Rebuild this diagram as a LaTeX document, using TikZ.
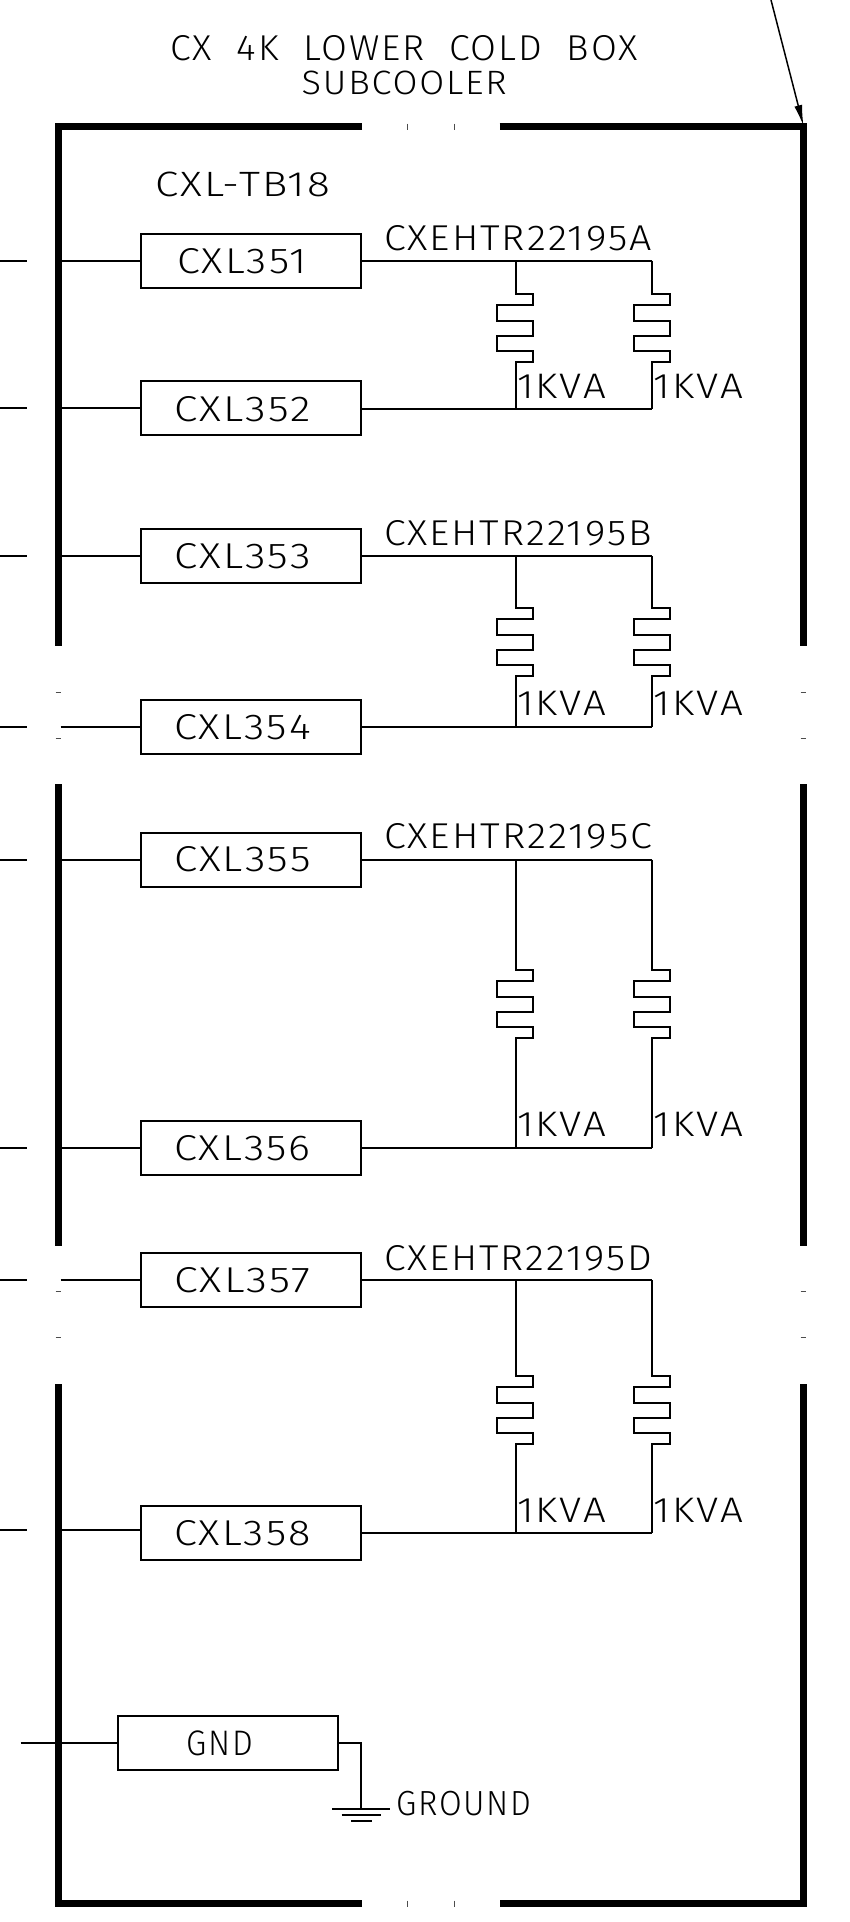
\documentclass[tikz,border=0pt]{standalone}
\usepackage{fontspec}
\usepackage{graphicx}
\usetikzlibrary{arrows.meta,calc}
\newfontfamily\cad[LetterSpace=5]{Fira Sans Light}
\newlength{\tw}
\newcommand{\txt}[7]{\setlength{\tw}{#4pt}\addtolength{\tw}{2pt}%
 \node[lab,anchor=south west] (#1) at ({#2-2},#3) {\resizebox{\tw}{#5pt}{\cad #6}};}
\newcommand{\heat}[5]{%
 % #1 name, #2 x, #3 top y, #4 zig start y, #5 bottom y
 \coordinate (#1t) at (#2,#3);
 \coordinate (#1b) at (#2,#5);
 \draw[wire,line join=miter] (#1t) -- (#2,#4) -- ++(17.6,0) -- ++(0,11.3) -- ++(-36,0) -- ++(0,15.7) -- ++(36,0) -- ++(0,15) -- ++(-36,0) -- ++(0,14.7) -- ++(36,0) -- ++(0,11) -- ++(-17.6,0) -- (#1b);
}
\tikzset{
 wire/.style={line width=2pt,black},
 bar/.style={line width=6.5pt,black},
 tick/.style={line width=1pt,black!70},
 box/.style={draw=black,line width=2pt,minimum width=220pt,minimum height=54pt,inner sep=0pt,outer sep=0pt,fill=none},
 lab/.style={inner sep=0pt,outer sep=0pt},
}
\begin{document}
\begin{tikzpicture}[x=1pt,y=-1pt]
\useasboundingbox[fill=white] (0,0) rectangle (850,1922);
% frame
\draw[bar,line cap=butt] (362,126.5) -- (58.5,126.5) -- (58.5,645.5);
\draw[bar,line cap=butt] (499.5,126.5) -- (803.5,126.5) -- (803.5,645.5);
\draw[bar,line cap=butt] (58.5,784) -- (58.5,1246);
\draw[bar,line cap=butt] (803.5,784) -- (803.5,1246);
\draw[bar,line cap=butt] (58.5,1384) -- (58.5,1903.5) -- (362,1903.5);
\draw[bar,line cap=butt] (803.5,1384) -- (803.5,1903.5) -- (499.5,1903.5);
% ticks
\foreach \x in {407.8,454}{
 \draw[tick] (\x,123.5) -- (\x,129.5);
 \draw[tick] (\x,1900.5) -- (\x,1906.5);
}
\foreach \y in {692,738,1291,1337}{
 \draw[tick] (55.5,\y) -- (61,\y);
 \draw[tick] (800.5,\y) -- (806,\y);
}
% arrow
\coordinate (arrs) at (771,0);
\coordinate (arre) at (803.5,126);
\draw[line width=1.5pt,-{Latex[length=21pt,width=8pt]}] (arrs) -- (arre);
% boxes
\foreach \n/\y in {351/260.5,352/408,353/556,354/727,355/859.5,356/1148,357/1280,358/1533}{
 \node[box] (b\n) at (250.5,\y) {};
}
\node[box] (bgnd) at (228.3,1742.5) {};
% titles
\txt{t1}{172.5}{61}{465}{25}{CX\ \ 4K\ \ LOWER\ \ COLD\ \ BOX}{}
\txt{t2}{303.7}{95}{203}{23.5}{SUBCOOLER}{}
\txt{t3}{157}{196.7}{173}{24.5}{CXL-TB18}{}
% box labels
\txt{l351}{179}{274}{127.4}{25}{CXL351}{}
\txt{l352}{176}{421.7}{134.7}{25}{CXL352}{}
\txt{l353}{176}{569}{134.7}{25}{CXL353}{}
\txt{l354}{176}{740}{134.7}{25}{CXL354}{}
\txt{l355}{176}{872}{134.7}{25}{CXL355}{}
\txt{l356}{176}{1161}{134.7}{25}{CXL356}{}
\txt{l357}{176}{1293}{134.7}{25}{CXL357}{}
\txt{l358}{176}{1546}{134.7}{25}{CXL358}{}
\txt{lgnd}{188.7}{1755.7}{64.3}{24.7}{GND}{}
\txt{lgr}{398.6}{1816}{132.9}{24.3}{GROUND}{}
% heater labels
\txt{ha}{386}{250.7}{266}{25}{CXEHTR22195A}{}
\txt{hb}{386}{546.5}{266}{25}{CXEHTR22195B}{}
\txt{hc}{386}{849}{266}{25}{CXEHTR22195C}{}
\txt{hd}{386}{1271}{266}{25}{CXEHTR22195D}{}
% kva labels
\foreach \n/\y in {a/398.3,b/715.3,c/1136.5,d/1522.5}{
 \txt{ka\n}{519}{\y}{87}{24.3}{1KVA}{}
 \txt{kb\n}{655.7}{\y}{87.3}{24.3}{1KVA}{}
}
% heaters
\heat{a1}{515.7}{260.5}{294}{409}
\heat{a2}{652}{260.5}{294}{409}
\heat{b1}{515.7}{556}{608}{727}
\heat{b2}{652}{556}{608}{727}
\heat{c1}{515.7}{859.5}{970}{1148}
\heat{c2}{652}{859.5}{970}{1148}
\heat{d1}{515.7}{1280}{1376}{1533}
\heat{d2}{652}{1280}{1376}{1533}
% connectors
\draw[wire] (b351.east |- a1t) -- (a2t);
\draw[wire] (b352.east |- a1b) -- (a2b);
\draw[wire] (b353.east) -- (b2t);
\draw[wire] (b354.east) -- (b2b);
\draw[wire] (b355.east) -- (c2t);
\draw[wire] (b356.east) -- (c2b);
\draw[wire] (b357.east) -- (d2t);
\draw[wire] (b358.east) -- (d2b);
% left stubs
\foreach \n/\y in {351/260.5,352/408,353/556,354/727,355/859.5,356/1148,357/1280,358/1529.5}{
 \coordinate (s\n) at (0,\y);
 \coordinate (m\n) at (26.5,\y);
 \coordinate (n\n) at (60.5,\y);
 \draw[wire] (s\n) -- (m\n);
 \draw[wire] (n\n) -- (n\n -| b\n.west);
}
% gnd
\coordinate (gs) at (20.5,1742.5);
\draw[wire] (gs) -- (bgnd.west);
\coordinate (gtop) at (360.6,1742.5);
\coordinate (gbus) at (360.6,1808.7);
\draw[wire] (bgnd.east) -- (gtop) -- (gbus);
\coordinate (g1l) at (332,1808.7); \coordinate (g1r) at (389.5,1808.7);
\coordinate (g2l) at (341.5,1815); \coordinate (g2r) at (380.5,1815);
\coordinate (g3l) at (351,1821); \coordinate (g3r) at (371.5,1821);
\draw[wire] (g1l) -- (g1r);
\draw[wire] (g2l) -- (g2r);
\draw[wire] (g3l) -- (g3r);
\end{tikzpicture}
\end{document}
